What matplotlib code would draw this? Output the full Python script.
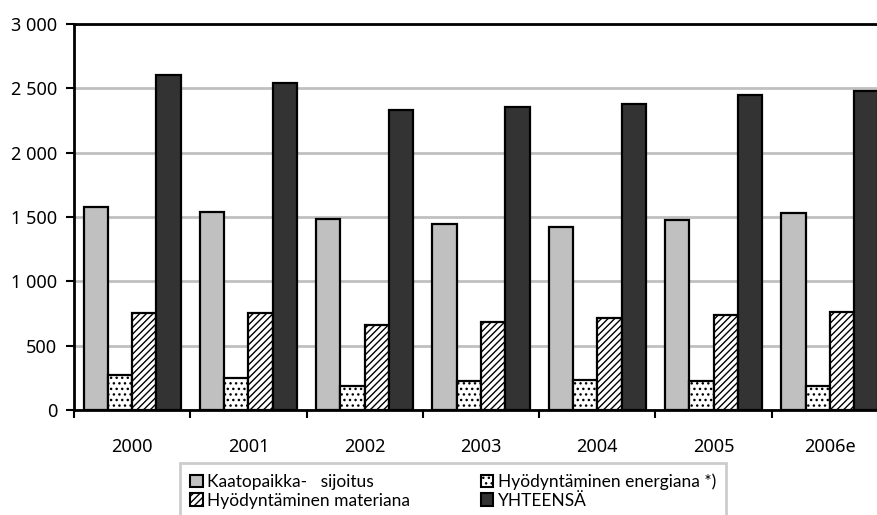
import matplotlib
matplotlib.use("Agg")
import matplotlib.pyplot as plt
import numpy as np
from matplotlib.ticker import FuncFormatter, FixedLocator

plt.rcParams['font.family'] = ['Noto Sans', 'DejaVu Sans']
plt.rcParams['hatch.linewidth'] = 1.0

categories = ["2000", "2001", "2002", "2003", "2004", "2005", "2006e"]
kaatopaikka = [1580, 1540, 1485, 1445, 1425, 1477, 1530]
energiana = [272, 246, 189, 225, 233, 228, 189]
materiana = [752, 752, 661, 687, 713, 739, 765]
yhteensa = [2605, 2540, 2333, 2358, 2377, 2452, 2480]

labels = ["Kaatopaikka-   sijoitus", "Hyödyntäminen energiana *)",
          "Hyödyntäminen materiana", "YHTEENSÄ"]

W, H = 877, 515
fig = plt.figure(figsize=(W / 100, H / 100), dpi=100)
ax = fig.add_axes([74 / W, (H - 410) / H, (888 - 74) / W, (410 - 24) / H])

x = np.arange(len(categories))
bw = 0.209
lw = 1.6
series = [
    (kaatopaikka, dict(color="#c0c0c0", hatch=None)),
    (energiana, dict(color="white", hatch="...")),
    (materiana, dict(color="white", hatch="/////")),
    (yhteensa, dict(color="#333333", hatch=None)),
]
handles = []
for k, (vals, st) in enumerate(series):
    b = ax.bar(x + (k - 1.5) * bw, vals, width=bw, color=st["color"],
               hatch=st["hatch"], edgecolor="black", linewidth=lw, zorder=3,
               label=labels[k])
    handles.append(b)

ax.set_xlim(-0.5, len(categories) - 0.5)
ax.set_ylim(0, 3000)
ax.set_yticks(np.arange(0, 3001, 500))
ax.yaxis.set_major_formatter(FuncFormatter(lambda v, p: f"{v:,.0f}".replace(",", " ")))
ax.yaxis.grid(True, color="#c0c0c0", linewidth=2, zorder=0)
ax.set_axisbelow(True)

ax.set_xticks(x)
ax.set_xticklabels(categories)
ax.xaxis.set_minor_locator(FixedLocator(np.arange(-0.5, len(categories), 1.0)))
ax.tick_params(axis="x", which="major", length=0, pad=20, labelsize=13)
ax.tick_params(axis="x", which="minor", length=6, width=1.5, direction="out")
ax.tick_params(axis="y", length=6, width=1.5, direction="out", pad=6, labelsize=13)

for s in ["left", "bottom", "top"]:
    ax.spines[s].set_linewidth(2)
    ax.spines[s].set_color("black")
ax.spines["right"].set_visible(False)

order = [0, 2, 1, 3]
leg = fig.legend([handles[i] for i in order], [labels[i] for i in order],
                 ncol=2, loc="upper left", bbox_to_anchor=(180 / W, 1 - 463 / H),
                 frameon=True, fancybox=False, edgecolor="#c0c0c0",
                 prop=dict(family=['Lato', 'DejaVu Sans'], size=12.5),
                 handlelength=0.7, handleheight=0.7,
                 handletextpad=0.25, labelspacing=0.15, columnspacing=4.1,
                 borderpad=0.6, borderaxespad=0)
leg.get_frame().set_linewidth(2)
for h in leg.legend_handles:
    h.set_linewidth(1.5)

fig.savefig("out.png", dpi=100)
